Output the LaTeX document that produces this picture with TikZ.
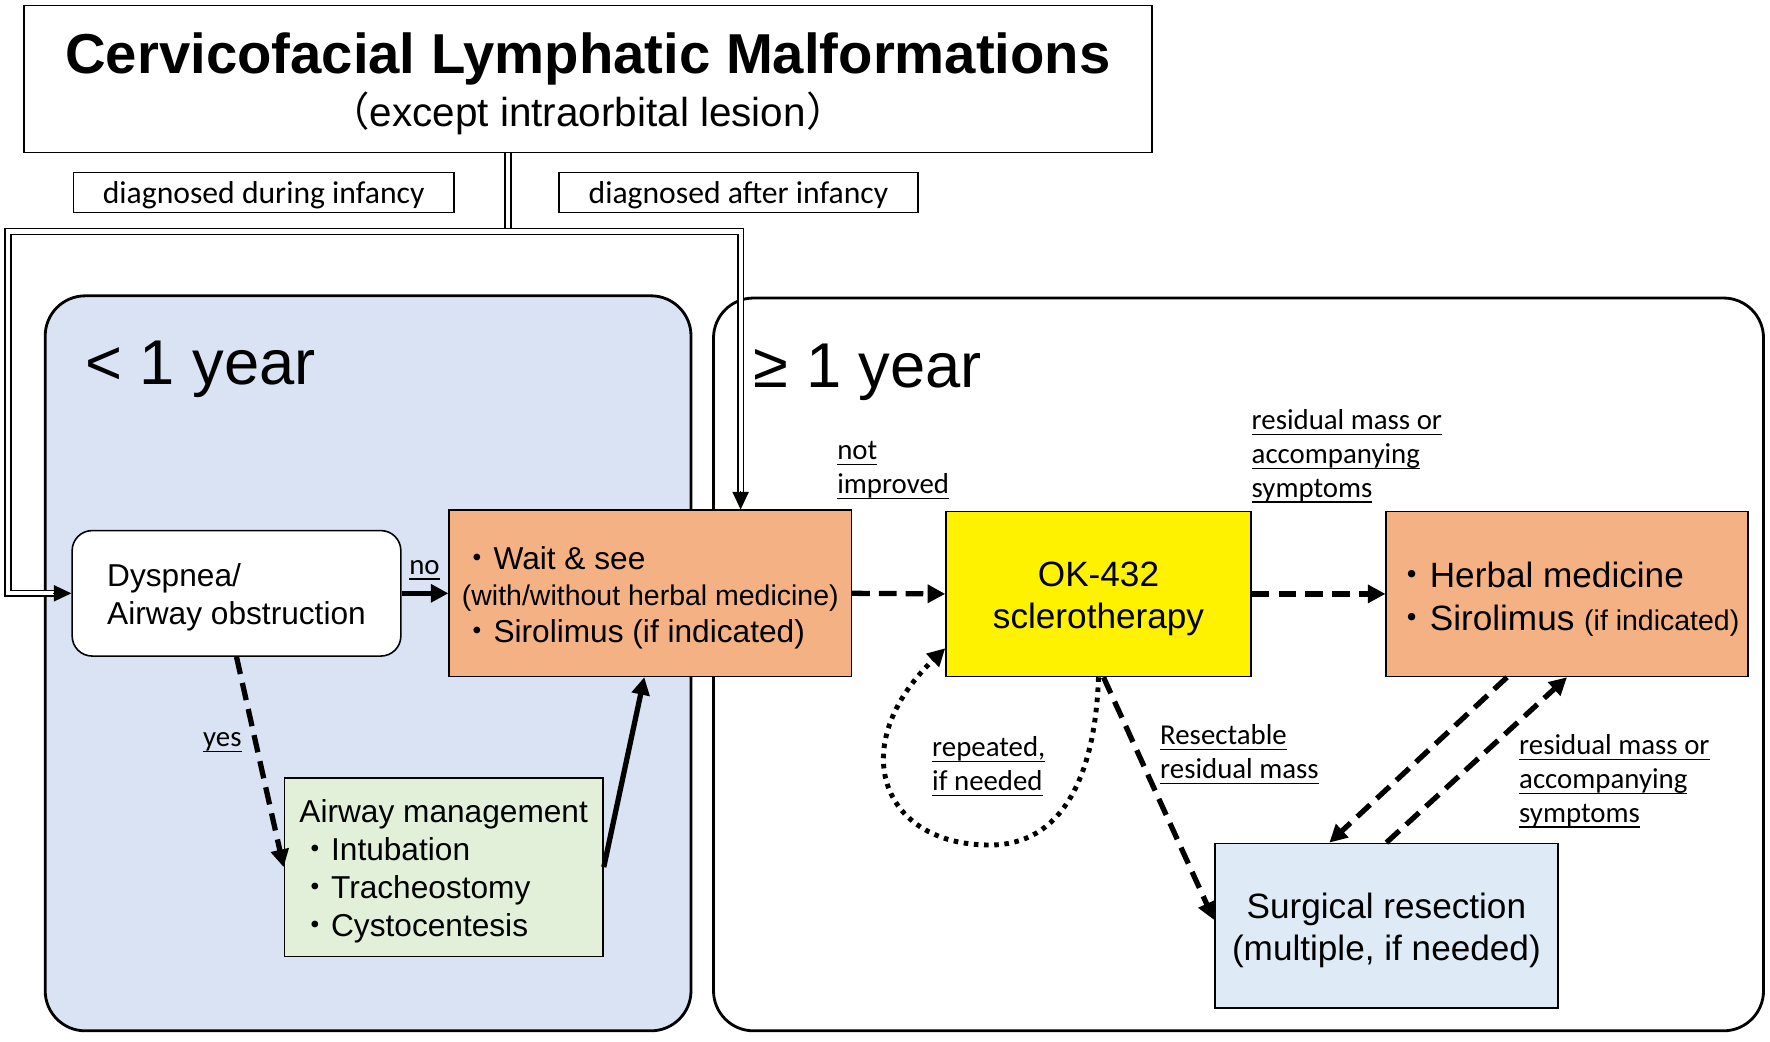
\documentclass[tikz,border=0pt]{standalone}
\usepackage{fontspec}
\setmainfont{Liberation Sans}
\newfontfamily\lblfont{Carlito}
\newfontfamily\cjk{Noto Sans CJK JP}
\usepackage{xcolor}
\usepackage{tikz}
\usetikzlibrary{
  positioning,
  calc,
  arrows.meta
}
\definecolor{areablue}{HTML}{DAE3F3}
\definecolor{boxorange}{HTML}{F4B183}
\definecolor{boxgreen}{HTML}{E2F0D9}
\definecolor{boxblue}{HTML}{DEEBF7}
\newcommand\fsz[2]{\fontsize{#1}{#2}\selectfont}
\newcommand\bul{{\cjk ・}}
\newcommand\tup{\rule{0pt}{1em}}
\newcommand\ulbl[1]{\underline{\smash{#1}}}

\begin{document}
\begin{tikzpicture}[x=0.01cm,y=-0.01cm,
  box/.style={draw,line width=0.45pt,inner sep=0pt},
  area/.style={draw,line width=0.8pt,rounded corners=0.4cm},
  thickarr/.style={line width=1.5pt,-{Triangle[length=5pt,width=5pt]}},
  dasharr/.style={thickarr,dash pattern=on 5pt off 2.6pt},
  dotarr/.style={thickarr,line width=1.4pt,dash pattern=on 1.3pt off 1.6pt},
  dbl/.style={double,double distance=1.2pt,line width=0.45pt},
  dbltip/.style={line width=0.45pt,-{Triangle[length=5pt,width=4.6pt]}},
  cond/.style={font=\lblfont\fsz{8.2}{9.6},align=left,inner sep=0pt,anchor=west}]
  \useasboundingbox (0,0) rectangle (1770,1041);

  % age groups
  \draw[area,fill=areablue] (45.2,295.8) rectangle (691,1030.8);
  \draw[area,fill=white] (713.5,298) rectangle (1763.5,1030.8);
  \node[anchor=base west,inner sep=0pt,font=\fsz{18}{18}] (young) at (84.7,384) {< 1 year};
  \node[anchor=base west,inner sep=0pt,font=\fsz{18}{18}] (old) at (753,387) {≥ 1 year};

  % title and diagnosis labels
  \node[box,minimum width=11.27cm,minimum height=1.47cm,align=center] (title) at (588,79)
    {{\fsz{16}{16}\bfseries \rule{0pt}{14.2pt}Cervicofacial Lymphatic Malformations}\\[1pt]
     {\fsz{11.5}{14}{\cjk （}except intraorbital lesion{\cjk ）}}};
  \node[box,minimum width=3.8cm,minimum height=0.4cm,text depth=0pt,font=\lblfont\fsz{9}{10}] (during) at (263.7,192.5) {diagnosed during infancy};
  \node[box,minimum width=3.59cm,minimum height=0.4cm,text depth=0pt,font=\lblfont\fsz{9}{10}] (after) at (738.4,192.5) {diagnosed after infancy};

  % treatment boxes
  \node[box,rounded corners=0.2cm,fill=white,minimum width=3.285cm,minimum height=1.254cm,
    align=left,font=\fsz{9}{10.8}] (dys) at (236.5,593.3) {\tup Dyspnea/\\Airway obstruction};
  \node[box,fill=boxorange,minimum width=4.02cm,minimum height=1.66cm,align=left,font=\fsz{9}{10.4}] (wait) at (650.3,593.3)
    {\tup\bul Wait \& see\\{\fsz{8.1}{10.4}(with/without herbal medicine)}\\\bul Sirolimus (if indicated)};
  \node[box,fill=boxgreen,minimum width=3.184cm,minimum height=1.784cm,align=left,font=\fsz{9}{10.8}] (air) at (443.7,867.1)
    {\tup Airway management\\\bul Intubation\\\bul Tracheostomy\\\bul Cystocentesis};
  \node[box,fill=yellow,minimum width=3.048cm,minimum height=1.65cm,align=center,font=\fsz{10}{11.9}] (ok) at (1098.5,593.9)
    {\tup OK-432\\sclerotherapy};
  \node[box,fill=boxorange,minimum width=3.613cm,minimum height=1.65cm,align=left,font=\fsz{10}{12.2}] (herb) at (1567,593.9)
    {\tup\bul Herbal medicine\\\bul Sirolimus {\fsz{8.1}{12.2}(if indicated)}};
  \node[box,fill=boxblue,minimum width=3.432cm,minimum height=1.648cm,align=center,font=\fsz{10}{11.9}] (surg) at (1386.4,925.8)
    {\tup Surgical resection\\(multiple, if needed)};

  % double line from the title
  \coordinate (split) at (508,231.4);
  \coordinate (lrail) at (7.9,231.4);
  \coordinate (rrail) at (740.6,231.4);
  \coordinate (lend) at ($(dys.west)+(-17,0)$);
  \coordinate (rend) at ($(rrail |- wait.north)+(0,-17)$);
  \draw[dbl] (title.south -| split) -- (split);
  \draw[dbl] (lend) -- (lrail |- dys.west) -- (lrail) -- (rrail) -- (rend);
  \draw[dbltip] ($(lend)+(-1,0)$) -- (dys.west);
  \draw[dbltip] ($(rend)+(0,-1)$) -- (rrail |- wait.north);

  % connectors
  \draw[thickarr] (dys.east) -- (wait.west);
  \draw[dasharr] (dys.south) -- (air.west);
  \draw[thickarr] (air.east) -- ($(wait.south)+(-6,0)$);
  \draw[dasharr] (wait.east) -- (ok.west);
  \draw[dasharr] (ok.east) -- (herb.west);
  \coordinate (loopbot) at (990,845);
  \coordinate (loopin) at ($(ok.south west)+(0,-29)$);
  \draw[dotarr] (ok.south) .. controls (1095,780) and (1060,845) .. (loopbot)
    .. controls (880,845) and (845,745) .. (loopin);
  \draw[dasharr] ($(ok.south)+(5,0)$) -- ($(surg.west)+(0,-6)$);
  \draw[dasharr] ($(herb.south)+(-60,0)$) -- ($(surg.north)+(-57,0)$);
  \draw[dasharr] (surg.north) -- (herb.south);

  % conditions
  \node[cond,anchor=center] (lno) at (424.5,577.5) {\ulbl{no}};
  \node[cond,anchor=center] (lyes) at (222.4,750) {\ulbl{yes}};
  \node[cond] (lnot) at (836.6,480) {\ulbl{not}\\\ulbl{improved}};
  \node[cond] (lresa) at (1251,467) {\ulbl{residual mass or}\\\ulbl{accompanying}\\\ulbl{symptoms}};
  \node[cond] (lrep) at (931.5,777) {\ulbl{repeated,}\\\ulbl{if needed}};
  \node[cond] (lsec) at (1159.5,765) {\ulbl{Resectable}\\\ulbl{residual mass}};
  \node[cond] (lresb) at (1518.5,792) {\ulbl{residual mass or}\\\ulbl{accompanying}\\\ulbl{symptoms}};
\end{tikzpicture}
\end{document}
